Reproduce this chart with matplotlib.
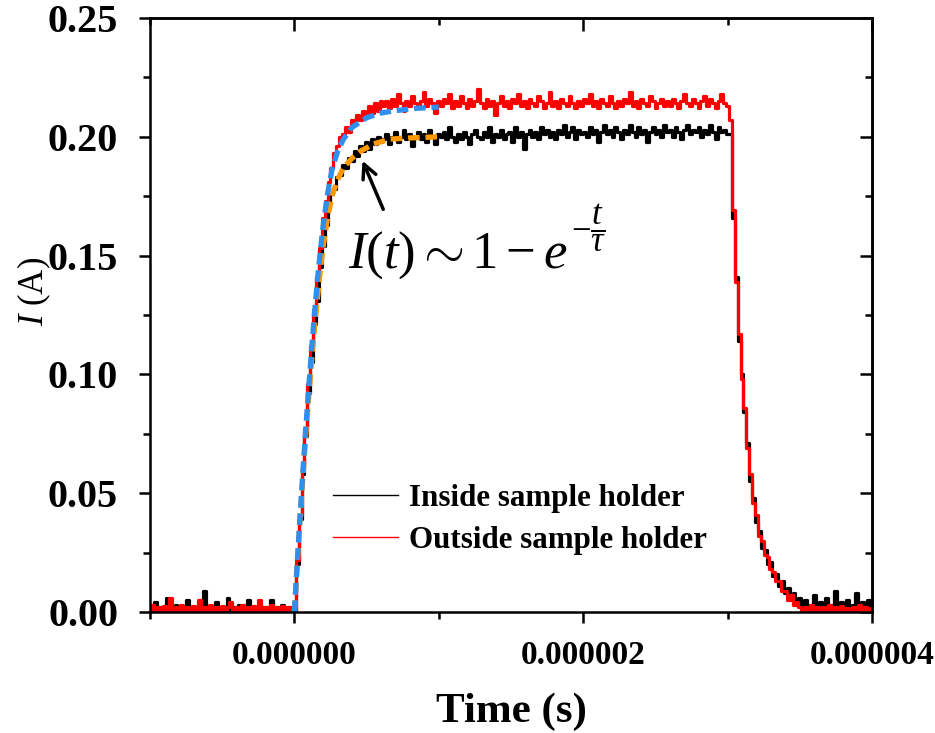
import numpy as np
import matplotlib
matplotlib.use("Agg")
import matplotlib.pyplot as plt
from matplotlib.ticker import MultipleLocator, FormatStrFormatter

plt.rcParams['font.family'] = ['Liberation Serif', 'DejaVu Serif']
plt.rcParams['mathtext.fontset'] = 'custom'
plt.rcParams['mathtext.rm'] = 'Liberation Serif'
plt.rcParams['mathtext.it'] = 'Liberation Serif:italic'
plt.rcParams['mathtext.bf'] = 'Liberation Serif:bold'

# time spans of each segment (microseconds), samples are evenly spread inside each span
seg_spans = [(-1.00, 0.00), (0.02, 0.60), (0.62, 3.00), (3.02, 3.50), (3.52, 4.00)]

# current readings in mA, inside sample holder (black trace)
inside_base = [2, 1, 4, 0.5, 2, 1, 6, 1.5, 0.5, 3, 1, 2, 0.5, 5, 1, 2, 0.5, 3, 1, 9,
               1, 2, 0.5, 4, 1, 2, 1, 6, 0.5, 2, 1, 3, 0.5, 2, 5, 1, 2, 0.5, 3, 1,
               2, 0.5, 5, 1, 2, 0.5, 3, 1, 2, 0.5, 0]
inside_rise = [20, 39, 58, 74, 92, 105, 121, 131, 145, 154, 163, 170, 176, 178, 183,
               184, 188, 187, 191, 190, 194, 192, 196, 194, 198, 195, 199, 197, 200, 198]
inside_plateau = [199, 201, 197, 200, 202, 198, 200, 203, 199, 201,
                  196, 200, 202, 199, 201, 198, 203, 200, 197, 201,
                  200, 202, 199, 204, 200, 198, 201, 199, 202, 200,
                  197, 201, 203, 200, 199, 202, 200, 204, 198, 201,
                  200, 203, 199, 201, 202, 198, 204, 200, 202, 195,
                  201, 203, 200, 202, 199, 204, 201, 203, 200, 202,
                  199, 203, 201, 205, 200, 202, 204, 199, 203, 201,
                  202, 200, 204, 201, 203, 198, 202, 205, 201, 203,
                  200, 204, 202, 199, 203, 201, 205, 202, 200, 204,
                  201, 203, 198, 202, 204, 201, 203, 200, 205, 202,
                  203, 200, 204, 202, 199, 203, 205, 201, 203, 202,
                  204, 200, 203, 201, 205, 202, 199, 204, 202, 203, 201]
inside_fall = [201, 166, 141, 114, 100, 84, 71, 55, 48, 38, 34, 27, 26, 20, 21,
               15, 16, 11, 13, 8, 10, 5, 8, 3, 6]
inside_tail = [2, 5, 1, 3, 7, 2, 4, 1, 6, 2, 3, 9, 1, 4, 2, 5, 1, 3, 8, 2, 4, 1, 5, 2]

# current readings in mA, outside sample holder (red trace)
outside_base = [1, 3, 0.5, 2, 1, 2.5, 0.5, 6, 1, 2, 0.5, 3, 1, 2, 0.5, 2.5, 1, 5, 0.5, 2,
                1, 3, 0.5, 2, 1, 2.5, 0.5, 2, 4, 1, 2, 0.5, 3, 1, 2, 0.5, 2.5, 1, 5, 0.5,
                2, 1, 3, 0.5, 2, 1, 2.5, 0.5, 2, 1, 0]
outside_rise = [22, 41, 61, 77, 96, 112, 127, 141, 153, 166, 173, 181, 187, 193, 196,
                200, 201, 204, 202, 207, 205, 209, 207, 211, 209, 213, 210, 214, 211, 215]
outside_plateau = [213, 215, 212, 216, 213, 218, 214, 211, 215, 213,
                   217, 214, 212, 215, 219, 213, 216, 214, 210, 215,
                   213, 216, 214, 218, 212, 215, 213, 217, 214, 212,
                   216, 213, 215, 220, 214, 212, 216, 213, 215, 209,
                   214, 217, 213, 215, 212, 216, 214, 218, 213, 215,
                   212, 216, 214, 213, 217, 215, 212, 214, 219, 213,
                   215, 212, 216, 214, 213, 217, 214, 212, 215, 213,
                   216, 214, 218, 213, 215, 212, 216, 214, 213, 217,
                   214, 212, 215, 213, 216, 214, 219, 213, 215, 212,
                   216, 214, 213, 217, 215, 212, 214, 216, 213, 215,
                   213, 216, 214, 212, 215, 218, 214, 213, 216, 214,
                   212, 215, 217, 213, 216, 214, 212, 215, 218, 214, 213]
outside_fall = [207, 169, 139, 117, 98, 86, 69, 58, 46, 41, 32, 30, 24, 23, 18,
                17, 13, 13, 9, 9, 5, 7, 3, 4, 2]
outside_tail = [1, 2, 0.5, 3, 1, 2, 0.5, 2, 1, 3, 0.5, 2, 1, 2.5, 0.5, 1.5, 1, 2, 0.5, 3,
                1, 2, 0.5, 1.5]

# fitted curves I(t) ~ 1 - exp(-t/tau) (t in us, I in A)
fit_out_t = [0, 0.02, 0.04, 0.06, 0.08, 0.10, 0.12, 0.14, 0.16, 0.18, 0.20, 0.23,
             0.26, 0.30, 0.34, 0.40, 0.50, 0.60, 0.70, 0.85, 1.00]
fit_out_i = [0, 0.021, 0.041, 0.060, 0.078, 0.095, 0.111, 0.126, 0.140, 0.152, 0.163,
             0.176, 0.186, 0.194, 0.199, 0.204, 0.208, 0.210, 0.211, 0.212, 0.2125]
fit_in_t = [0, 0.02, 0.04, 0.06, 0.08, 0.10, 0.12, 0.14, 0.16, 0.18, 0.20, 0.23,
            0.26, 0.30, 0.34, 0.40, 0.46, 0.55, 0.66, 0.80, 1.00]
fit_in_i = [0, 0.020, 0.040, 0.058, 0.075, 0.091, 0.106, 0.120, 0.132, 0.144, 0.154,
            0.166, 0.175, 0.182, 0.187, 0.191, 0.194, 0.197, 0.199, 0.1995, 0.200]


def build_trace(segments):
  t_all, i_all = [], []
  for (t0, t1), vals in zip(seg_spans, segments):
    t_all.append(np.linspace(t0, t1, len(vals)))
    i_all.append(np.array(vals, dtype=float))
  return np.concatenate(t_all) * 1e-6, np.concatenate(i_all) / 1000.0


t_in, i_in = build_trace([inside_base, inside_rise, inside_plateau, inside_fall, inside_tail])
t_out, i_out = build_trace([outside_base, outside_rise, outside_plateau, outside_fall, outside_tail])

fig = plt.figure(figsize=(9.35, 7.33), dpi=100)
ax = fig.add_axes([0.1604, 0.1651, 0.7722, 0.8104])

ax.plot(t_in, i_in, color='black', lw=2.3, drawstyle='steps-mid', label='Inside sample holder')
ax.plot(t_out, i_out, color='#ff0000', lw=2.3, drawstyle='steps-mid', label='Outside sample holder')
ax.plot(np.array(fit_in_t) * 1e-6, fit_in_i, color='#ff9900', lw=3.8, dashes=(2.2, 1.1))
ax.plot(np.array(fit_out_t) * 1e-6, fit_out_i, color='#2f8fef', lw=3.8, dashes=(2.2, 1.1))

ax.set_xlim(-1e-6, 4e-6)
ax.set_ylim(0, 0.25)

ax.xaxis.set_major_locator(MultipleLocator(2e-6))
ax.xaxis.set_minor_locator(MultipleLocator(1e-6))
ax.xaxis.set_major_formatter(FormatStrFormatter('%.6f'))
ax.yaxis.set_major_locator(MultipleLocator(0.05))
ax.yaxis.set_minor_locator(MultipleLocator(0.025))
ax.yaxis.set_major_formatter(FormatStrFormatter('%.2f'))

for s in ax.spines.values():
  s.set_linewidth(1.8)
ax.tick_params(which='major', direction='out', length=8, width=1.8)
ax.tick_params(which='minor', direction='out', length=5, width=1.8)
ax.tick_params(axis='x', labelsize=24, pad=12)
ax.tick_params(axis='y', labelsize=29, pad=15)
for lab in ax.get_xticklabels() + ax.get_yticklabels():
  lab.set_fontweight('bold')

# inward ticks on the top and right frame
top = ax.secondary_xaxis('top')
top.xaxis.set_major_locator(MultipleLocator(2e-6))
top.xaxis.set_minor_locator(MultipleLocator(1e-6))
top.tick_params(which='major', direction='in', length=9, width=1.8, labeltop=False)
top.tick_params(which='minor', direction='in', length=5, width=1.8)
top.spines['top'].set_linewidth(1.8)
right = ax.secondary_yaxis('right')
right.yaxis.set_major_locator(MultipleLocator(0.05))
right.yaxis.set_minor_locator(MultipleLocator(0.025))
right.tick_params(which='major', direction='in', length=9, width=1.8, labelright=False)
right.tick_params(which='minor', direction='in', length=5, width=1.8)
right.spines['right'].set_linewidth(1.8)

ax.set_xlabel('Time (s)', fontsize=31, fontweight='bold', labelpad=16)
ax.set_ylabel(r'$I$ (A)', fontsize=25)
ax.yaxis.set_label_coords(-0.135, 0.54)

ax.annotate('', xy=(0.464e-6, 0.191), xytext=(0.623e-6, 0.1684),
            arrowprops=dict(arrowstyle='->', lw=2.5, color='black', mutation_scale=25))
ax.text(0.374e-6, 0.145, r'$I(t)\sim1-e$', fontsize=38, va='baseline')
ax.text(1.915e-6, 0.1616, r'$-\dfrac{t}{\tau}$', fontsize=25, va='center', ha='left')

leg = ax.legend(loc='upper left', bbox_to_anchor=(0.253, 0.215), frameon=False,
                prop={'size': 22.3, 'weight': 'bold'}, handlelength=2.1, handletextpad=0.35,
                labelspacing=0.4, borderpad=0, borderaxespad=0)
for h in leg.get_lines():
  h.set_linewidth(1.0)

fig.savefig('out.png', dpi=100)
